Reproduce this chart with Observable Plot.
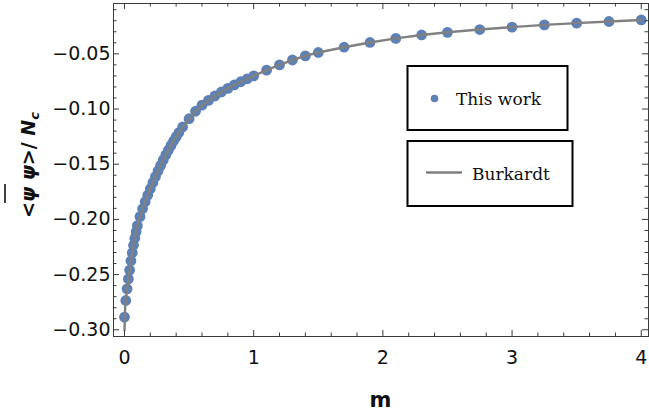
<!DOCTYPE html>
<html>
<head>
<meta charset="utf-8">
<script src="https://cdn.jsdelivr.net/npm/d3@7"></script>
<script src="https://cdn.jsdelivr.net/npm/@observablehq/plot@0.6"></script>
<style>
  html, body { margin: 0; padding: 0; background: #fff; }
  #chart { width: 649px; height: 417px; }
</style>
</head>
<body>
<div id="chart"></div>
<script>
// "This work" points
const dotM = [0, 0.01, 0.02, 0.03, 0.04, 0.05, 0.06, 0.07, 0.08, 0.09, 0.10,
  0.12, 0.14, 0.16, 0.18, 0.20, 0.22, 0.24, 0.26, 0.28, 0.30, 0.32, 0.34, 0.36, 0.38, 0.40, 0.42,
  0.45, 0.50, 0.55, 0.60, 0.65, 0.70, 0.75, 0.80, 0.85, 0.90, 0.95, 1.0, 1.1, 1.2, 1.3, 1.4, 1.5,
  1.7, 1.9, 2.1, 2.3, 2.5, 2.75, 3.0, 3.25, 3.5, 3.75, 4.0];
const dotY = [-0.2885, -0.2735, -0.2630, -0.2540, -0.2460, -0.2375, -0.2302, -0.2234, -0.2171, -0.2112, -0.2057,
  -0.1975, -0.1904, -0.1840, -0.1780, -0.1722, -0.1666, -0.1612, -0.1560, -0.1510, -0.1462, -0.1416, -0.1372, -0.1330, -0.1290, -0.1252, -0.1215,
  -0.1163, -0.1088, -0.1020, -0.0965, -0.0922, -0.0882, -0.0846, -0.0813, -0.0782, -0.0753, -0.0726, -0.0700, -0.0648, -0.0600, -0.0556, -0.0518, -0.0488,
  -0.0440, -0.0397, -0.0360, -0.0329, -0.0305, -0.0280, -0.0258, -0.0238, -0.0222, -0.0207, -0.0193];

// Burkardt curve
const burkM = [0, 0.005, 0.01, 0.02, 0.03, 0.04, 0.05, 0.06, 0.07, 0.08, 0.09, 0.10,
  0.12, 0.14, 0.16, 0.18, 0.20, 0.22, 0.24, 0.26, 0.28, 0.30, 0.32, 0.34, 0.36, 0.38, 0.40, 0.42,
  0.45, 0.50, 0.55, 0.60, 0.65, 0.70, 0.75, 0.80, 0.85, 0.90, 0.95, 1.0, 1.1, 1.2, 1.3, 1.4, 1.5,
  1.7, 1.9, 2.1, 2.3, 2.5, 2.75, 3.0, 3.25, 3.5, 3.75, 4.0];
const burkY = [-0.3005, -0.2800, -0.2735, -0.2630, -0.2540, -0.2460, -0.2375, -0.2302, -0.2234, -0.2171, -0.2112, -0.2057,
  -0.1975, -0.1904, -0.1840, -0.1780, -0.1722, -0.1666, -0.1612, -0.1560, -0.1510, -0.1462, -0.1416, -0.1372, -0.1330, -0.1290, -0.1252, -0.1215,
  -0.1163, -0.1088, -0.1020, -0.0965, -0.0922, -0.0882, -0.0846, -0.0813, -0.0782, -0.0753, -0.0726, -0.0700, -0.0648, -0.0600, -0.0556, -0.0518, -0.0488,
  -0.0440, -0.0397, -0.0360, -0.0329, -0.0305, -0.0280, -0.0258, -0.0238, -0.0222, -0.0207, -0.0193];

// tick labels
const xMajor = [0, 1, 2, 3, 4];
const yMajor = [-0.30, -0.25, -0.20, -0.15, -0.10, -0.05];
const legendLabels = ["This work", "Burkardt"];
const xLabel = "m";

const xMinor = d3.range(0, 4.001, 0.2).filter(v => Math.abs(v - Math.round(v)) > 1e-6);
const yMinor = d3.range(-0.30, -0.005, 0.01).filter(v => Math.abs(v * 20 - Math.round(v * 20)) > 1e-6);

const dots = dotM.map((m, i) => ({m, v: dotY[i]}));
const burk = burkM.map((m, i) => ({m, v: burkY[i]}));

const W = 649, H = 417, mL = 113, mR = 1, mT = 3, mB = 81;
const iW = W - mL - mR, iH = H - mT - mB;
const tc = "#3a3a3a";

const plot = Plot.plot({
  width: W, height: H,
  marginLeft: mL, marginRight: mR, marginTop: mT, marginBottom: mB,
  style: {fontFamily: "DejaVu Sans", fontSize: "19px", color: "#111", background: "#fff"},
  x: {domain: [-0.085, 4.056]},
  y: {domain: [-0.3061, -0.0044]},
  marks: [
    Plot.dot(dots, {x: "m", y: "v", r: 5.4, fill: "#5e81b5", stroke: "none"}),
    Plot.line(burk, {x: "m", y: "v", stroke: "#808080", strokeWidth: 2.4}),
    Plot.frame({stroke: tc, strokeWidth: 1}),
    Plot.tickX(xMajor, {x: d => d, insetTop: iH - 6, stroke: tc}),
    Plot.tickX(xMajor, {x: d => d, insetBottom: iH - 6, stroke: tc}),
    Plot.tickX(xMinor, {x: d => d, insetTop: iH - 3.5, stroke: tc}),
    Plot.tickX(xMinor, {x: d => d, insetBottom: iH - 3.5, stroke: tc}),
    Plot.tickY(yMajor, {y: d => d, insetRight: iW - 6, stroke: tc}),
    Plot.tickY(yMajor, {y: d => d, insetLeft: iW - 6, stroke: tc}),
    Plot.tickY(yMinor, {y: d => d, insetRight: iW - 3.5, stroke: tc}),
    Plot.tickY(yMinor, {y: d => d, insetLeft: iW - 3.5, stroke: tc}),
    Plot.axisX({ticks: xMajor, tickSize: 0, tickPadding: 14, label: null, tickFormat: d => String(d)}),
    Plot.axisY({ticks: yMajor, tickSize: 0, tickPadding: 3, label: null, tickFormat: d3.format(".2f")})
  ]
});
document.getElementById("chart").appendChild(plot);

const svg = d3.select(plot);

// x label
svg.append("text")
  .attr("x", mL + iW / 2).attr("y", 407)
  .attr("text-anchor", "middle")
  .attr("font-family", "DejaVu Sans").attr("font-weight", "bold").attr("font-size", 21)
  .attr("fill", "#111")
  .text(xLabel);

// y label
const g = svg.append("g").attr("transform", "translate(35,165) rotate(-90)");
const t = g.append("text")
  .attr("text-anchor", "middle")
  .attr("font-family", "DejaVu Sans").attr("font-weight", "bold").attr("font-size", 19)
  .attr("fill", "#111");
t.append("tspan").text("<");
t.append("tspan").attr("font-style", "italic").text("ψ");
t.append("tspan").text(" ");
t.append("tspan").attr("font-style", "italic").text("ψ");
t.append("tspan").text(">/ ");
t.append("tspan").attr("font-style", "italic").text("N");
t.append("tspan").attr("font-style", "italic").attr("font-size", 13).attr("dy", 4).text("c");
try {
  const n = t.node();
  const s = n.getStartPositionOfChar(1), e = n.getEndPositionOfChar(1);
  g.append("line").attr("x1", s.x - 1).attr("x2", e.x + 3)
    .attr("y1", -30).attr("y2", -30)
    .attr("stroke", "#111").attr("stroke-width", 1.6);
} catch (err) {}

// legend
const lg = svg.append("g").attr("text-anchor", "start");
lg.append("rect").attr("x", 407.5).attr("y", 66).attr("width", 160).attr("height", 64)
  .attr("fill", "#fff").attr("stroke", "#000").attr("stroke-width", 2);
lg.append("circle").attr("cx", 434.5).attr("cy", 98.5).attr("r", 3.8).attr("fill", "#5e81b5");
lg.append("text").attr("x", 456).attr("y", 105).attr("text-anchor", "start")
  .attr("font-family", "DejaVu Serif").attr("font-size", 17).attr("fill", "#111")
  .text(legendLabels[0]);
lg.append("rect").attr("x", 407.5).attr("y", 141).attr("width", 165).attr("height", 65)
  .attr("fill", "#fff").attr("stroke", "#000").attr("stroke-width", 2);
lg.append("line").attr("x1", 426).attr("x2", 462).attr("y1", 172.5).attr("y2", 172.5)
  .attr("stroke", "#808080").attr("stroke-width", 2.5);
lg.append("text").attr("x", 472).attr("y", 180).attr("text-anchor", "start")
  .attr("font-family", "DejaVu Serif").attr("font-size", 17).attr("fill", "#111")
  .text(legendLabels[1]);
</script>
</body>
</html>
